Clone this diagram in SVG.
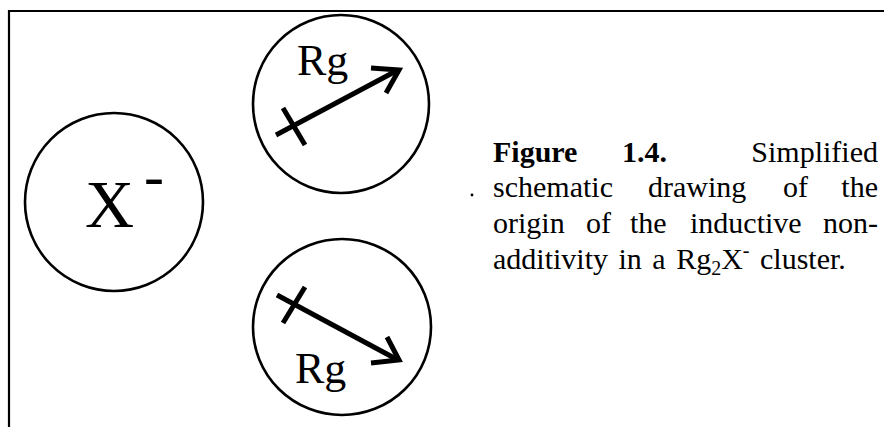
<svg xmlns="http://www.w3.org/2000/svg" width="884" height="427" viewBox="0 0 884 427">
<style>
.frame{fill:none;stroke:#000;stroke-width:2.2}
.atom{fill:none;stroke:#000;stroke-width:2.6}
.vec{fill:none;stroke:#000;stroke-width:5;stroke-linecap:butt;stroke-linejoin:miter}
.lbl{font-family:"Liberation Serif","Times New Roman",serif;fill:#000}
.cap{font-family:"Liberation Serif","Times New Roman",serif;font-size:30px;fill:#000}
.b{font-weight:bold}
</style>
<rect width="884" height="427" fill="#fff"/>
<path class="frame" d="M9,427 V11 H884"/>
<g id="x-ion">
<circle class="atom" cx="114" cy="202" r="89"/>
<text class="lbl" x="85" y="227" font-size="68">X<tspan font-size="60" dx="10" dy="-31">-</tspan></text>
</g>
<g id="rg-top">
<ellipse class="atom" cx="341" cy="104" rx="88" ry="89"/>
<text class="lbl" x="297" y="75" font-size="44">Rg</text>
</g>
<g id="rg-bottom">
<ellipse class="atom" cx="342" cy="327" rx="89" ry="88"/>
<text class="lbl" x="295" y="383" font-size="44">Rg</text>
</g>
<g id="connectors">
<path class="vec" d="M276,135 L398,70"/>
<path class="vec" d="M283,108 L305,145"/>
<path class="vec" d="M371,68 L399,70 L386,93"/>
<path class="vec" d="M277,295 L398,360"/>
<path class="vec" d="M305,287 L283,323"/>
<path class="vec" d="M371,363 L399,360 L387,337"/>
</g>
<g id="caption">
<circle cx="472" cy="195" r="1.4" fill="#000"/>
<text class="cap b" x="493" y="162">Figure</text>
<text class="cap b" x="622" y="162">1.4.</text>
<text class="cap" x="878" y="162" text-anchor="end">Simplified</text>
<text class="cap" x="493" y="197">schematic</text>
<text class="cap" x="648" y="197">drawing</text>
<text class="cap" x="783" y="197">of</text>
<text class="cap" x="878" y="197" text-anchor="end">the</text>
<text class="cap" x="493" y="233">origin</text>
<text class="cap" x="586" y="233">of</text>
<text class="cap" x="630" y="233">the</text>
<text class="cap" x="690" y="233">inductive</text>
<text class="cap" x="878" y="233" text-anchor="end">non-</text>
<text class="cap" x="493" y="269" word-spacing="3">additivity in a Rg<tspan font-size="20" dy="6">2</tspan><tspan dy="-6">X</tspan><tspan font-size="20" dy="-12">-</tspan><tspan dy="12"> cluster.</tspan></text>
</g>
</svg>
